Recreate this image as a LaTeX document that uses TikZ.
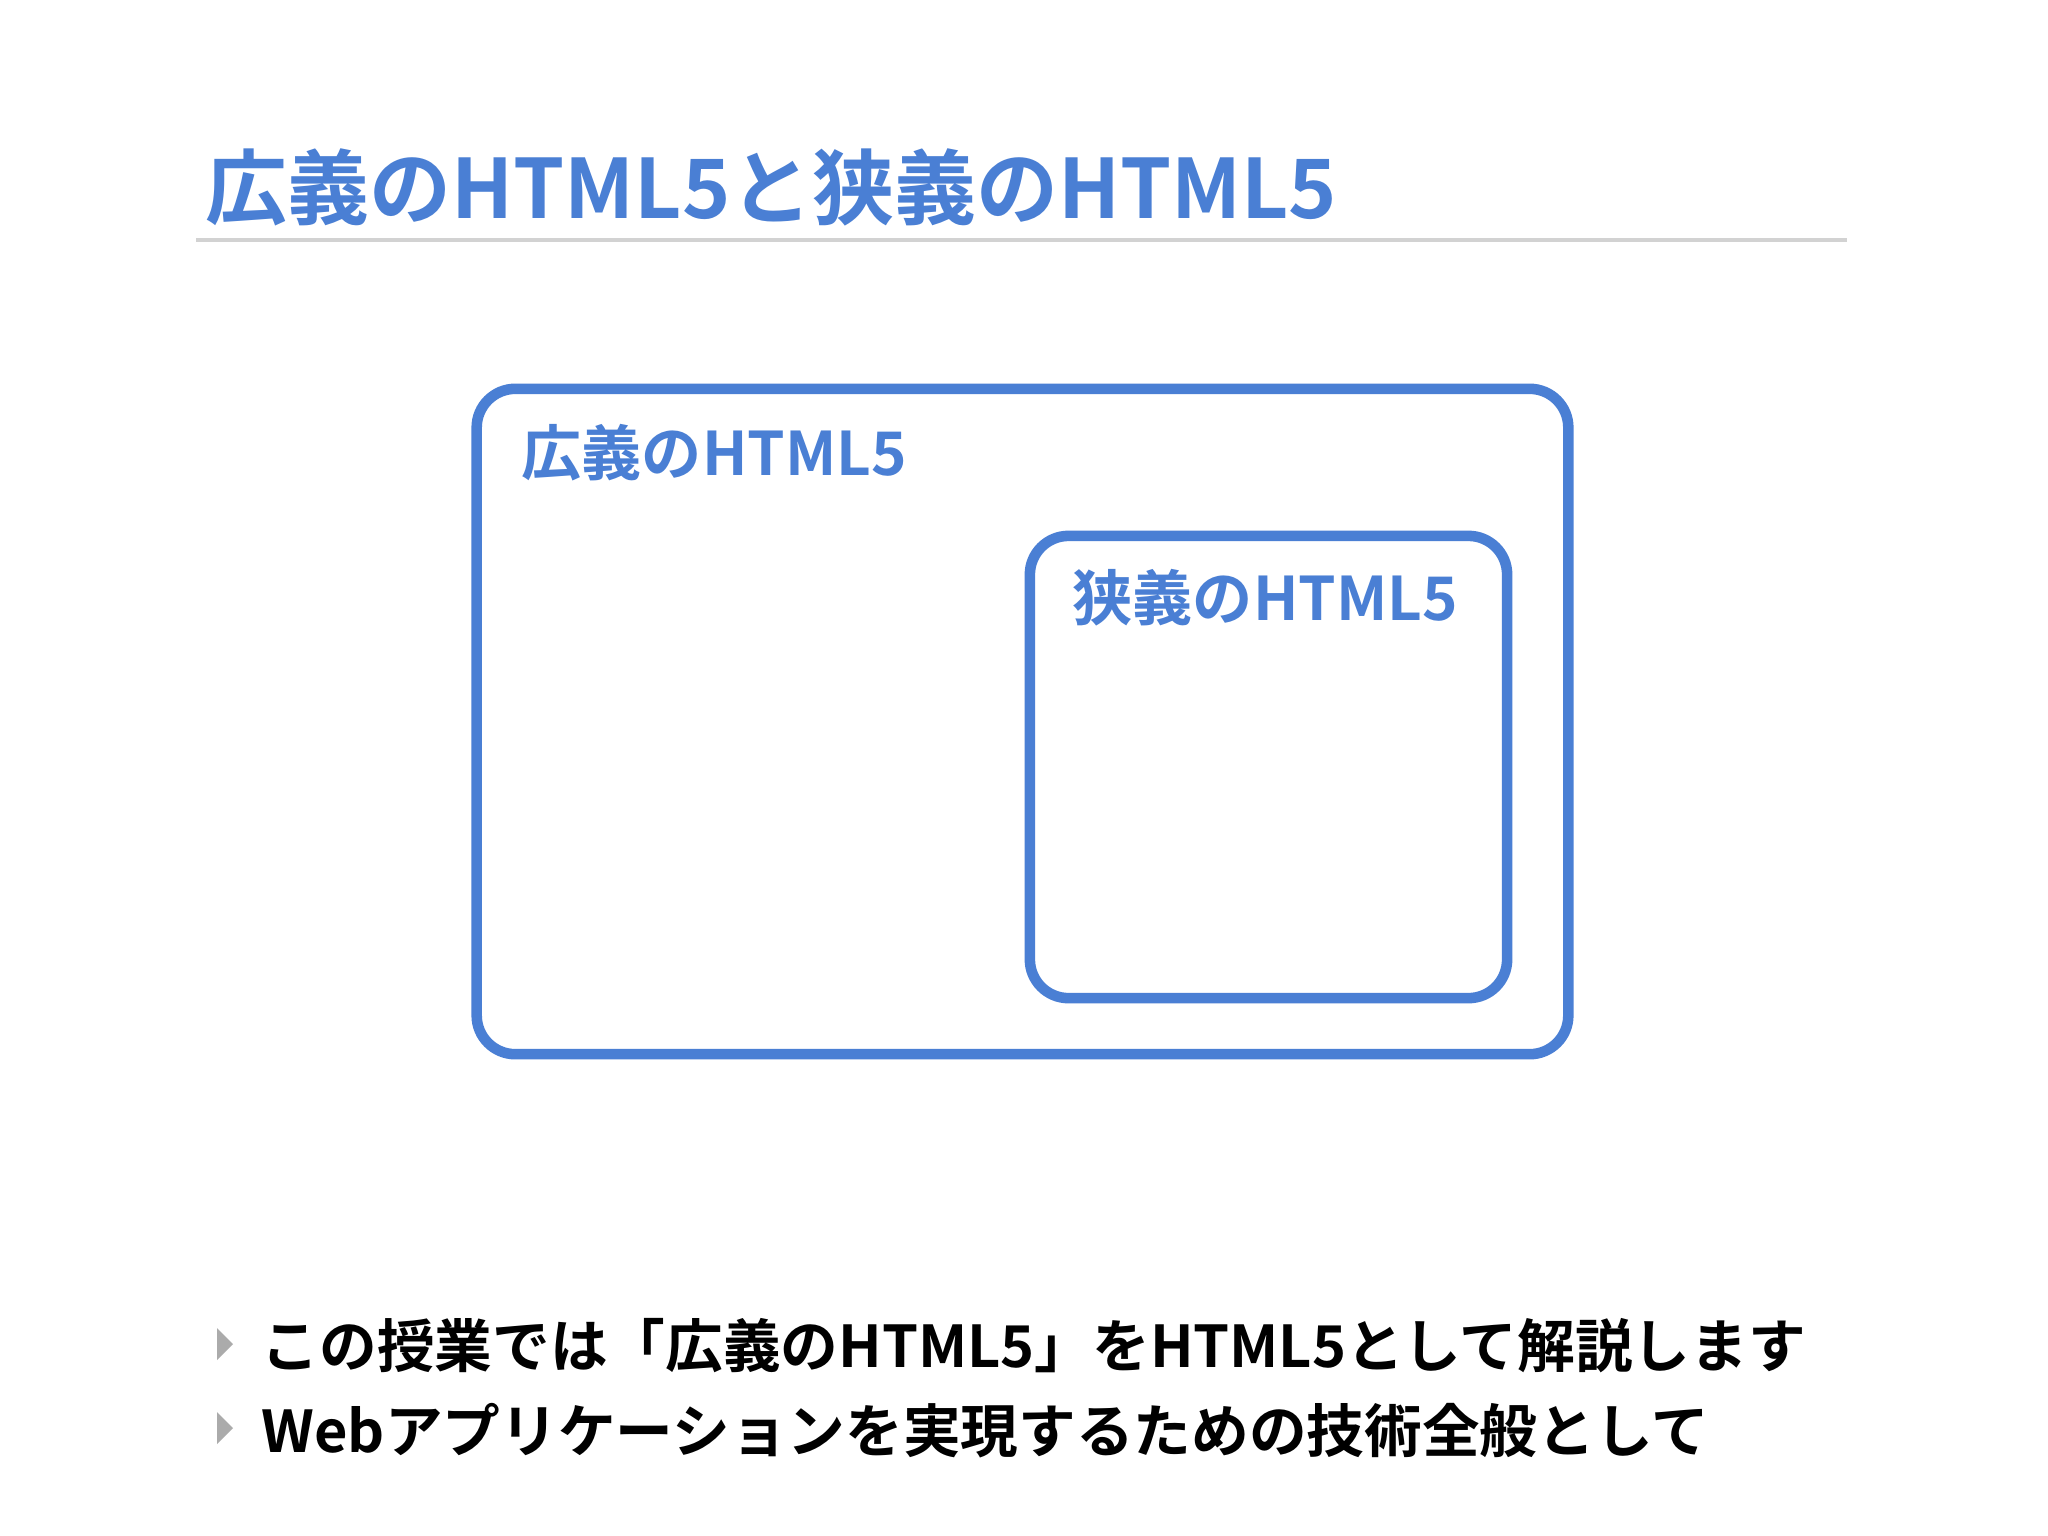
\documentclass[tikz,border=0pt]{standalone}
\usepackage{fontspec}
\usepackage{xcolor}
\usepackage{tikz}
\usetikzlibrary{positioning,calc}
\newfontfamily\jpfont{Noto Sans CJK JP Bold}
\definecolor{slideblue}{HTML}{4A7FD4}
\definecolor{rulegray}{HTML}{D2D2D2}
\definecolor{bulletgray}{HTML}{ABABAB}

\begin{document}
\begin{tikzpicture}[x=0.01cm,y=-0.01cm,
    setbox/.style={draw=slideblue,line width=3pt,rounded corners=11pt,inner sep=0pt},
    setlabel/.style={anchor=base west,inner sep=0pt,text=slideblue,font=\jpfont\fontsize{17.1}{20}\selectfont},
    itemtext/.style={anchor=base west,inner sep=0pt,font=\jpfont\fontsize{16.4}{20}\selectfont}]
    \useasboundingbox[fill=white] (0,0) rectangle (2048,1536);

    % Title and rule
    \node[anchor=base west,inner sep=0pt,text=slideblue,font=\jpfont\fontsize{23.3}{28}\selectfont] (title) at (205,218) {広義のHTML5と狭義のHTML5};
    \coordinate (ruleL) at (196,240);
    \coordinate (ruleR) at (1847,240);
    \draw[rulegray,line width=0.9pt] (ruleL) -- (ruleR);

    % Outer set: wide HTML5
    \node[setbox,minimum width=10.91cm,minimum height=6.65cm] (wide) at (1022.5,721.5) {};
    \node[setlabel] (wideLabel) at (521,475) {広義のHTML5};

    % Inner set: narrow HTML5
    \node[setbox,minimum width=4.77cm,minimum height=4.62cm] (narrow) at (1268.5,767) {};
    \node[setlabel] (narrowLabel) at (1072,620) {狭義のHTML5};

    % Bullet items
    \foreach \y/\name in {1344/markA,1428/markB}
        \fill[bulletgray] (217,\y-16) -- (233,\y) -- (217,\y+16) -- cycle;
    \node[itemtext] (itemA) at (261,1367) {この授業では「広義のHTML5」をHTML5として解説します};
    \node[itemtext] (itemB) at (261,1452) {Webアプリケーションを実現するための技術全般として};
\end{tikzpicture}
\end{document}
